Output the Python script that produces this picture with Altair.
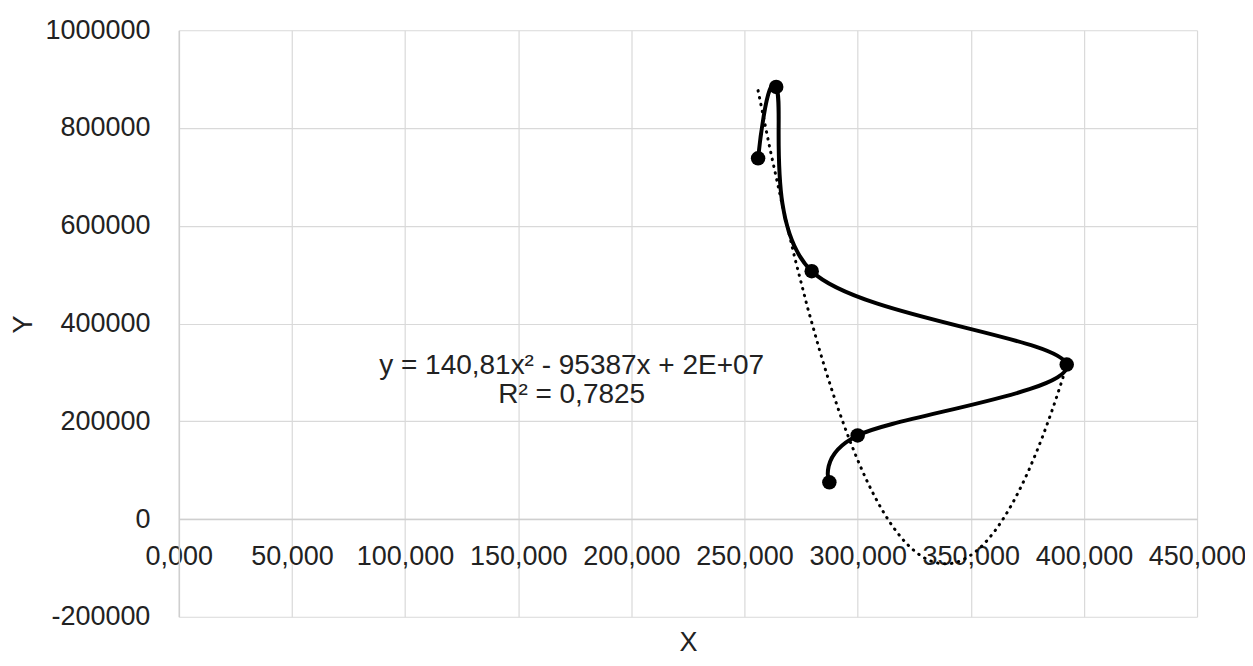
import altair as alt
import pandas as pd

# Data
xs = [256.0, 264.0, 279.7, 392.4, 300.0, 287.5]
ys = [738000, 884000, 507000, 316000, 171000, 75000]
order_idx = [0, 1, 2, 3, 4, 5]

x_ticks = [0, 50, 100, 150, 200, 250, 300, 350, 400, 450]
y_ticks = [-200000, 0, 200000, 400000, 600000, 800000, 1000000]

eq_lines = ["y = 140,81x² - 95387x + 2E+07", "R² = 0,7825"]
eq_x = [173.6, 173.6]
eq_y = [314000, 253000]

df = pd.DataFrame({"x": xs, "y": ys, "i": order_idx})
eq_df = pd.DataFrame({"t": eq_lines, "x": eq_x, "y": eq_y})

FONT = "Liberation Sans"
FS = 27

xscale = alt.Scale(domain=[0, 450], nice=False, zero=False)
yscale = alt.Scale(domain=[-200000, 1000000], nice=False, zero=False)

xaxis = alt.Axis(
    values=x_ticks,
    labelExpr="replace(format(datum.value, '.3f'), '.', ',')",
    offset=-97.83,
    ticks=False,
    tickSize=0,
    labelPadding=25,
    labelFont=FONT,
    labelFontSize=FS,
    labelColor="#222222",
    labelFlush=False,
    labelOverlap=False,
    grid=True,
    gridColor="#d9d9d9",
    gridWidth=1.2,
    domainColor="#cfcfcf",
    domainWidth=1.5,
    title="X",
    titleFont=FONT,
    titleFontSize=FS,
    titleFontWeight="normal",
    titleColor="#222222",
    titleY=124,
    titleBaseline="middle",
)

yaxis = alt.Axis(
    values=y_ticks,
    labelExpr="'' + datum.value",
    ticks=False,
    tickSize=0,
    labelPadding=29,
    labelFont=FONT,
    labelFontSize=FS,
    labelColor="#222222",
    labelFlush=False,
    labelOverlap=False,
    grid=True,
    gridColor="#d9d9d9",
    gridWidth=1.2,
    domainColor="#cfcfcf",
    domainWidth=1.5,
    title="Y",
    titleFont=FONT,
    titleFontSize=FS,
    titleFontWeight="normal",
    titleColor="#222222",
    titleX=-155,
    titleY=294,
    titleBaseline="middle",
    titleAngle=-90,
)

base = alt.Chart(df)

line = base.mark_line(
    interpolate="cardinal", color="black", strokeWidth=4, clip=True
).encode(
    x=alt.X("x:Q", scale=xscale, axis=xaxis),
    y=alt.Y("y:Q", scale=yscale, axis=yaxis),
    order=alt.Order("i:Q"),
)

trend = base.transform_regression(
    "x", "y", method="poly", order=2
).mark_line(
    color="black", strokeWidth=3, strokeDash=[0.5, 6.5], strokeCap="round", clip=True
).encode(
    x=alt.X("x:Q", scale=xscale),
    y=alt.Y("y:Q", scale=yscale),
)

points = base.mark_point(
    filled=True, shape="circle", size=210, color="black", opacity=1
).encode(
    x=alt.X("x:Q", scale=xscale),
    y=alt.Y("y:Q", scale=yscale),
)

text = alt.Chart(eq_df).mark_text(
    font=FONT, fontSize=28, color="#222222", align="center", baseline="middle"
).encode(
    x=alt.X("x:Q", scale=xscale),
    y=alt.Y("y:Q", scale=yscale),
    text="t:N",
)

chart = alt.layer(line, trend, points, text).properties(
    width=1019,
    height=587,
    autosize=alt.AutoSizeParams(type="none"),
    padding={"left": 171, "top": 22, "right": 48, "bottom": 40},
    background="white",
).configure_view(stroke=None)

chart.save("out.html", embed_options={"renderer": "svg", "actions": False})
